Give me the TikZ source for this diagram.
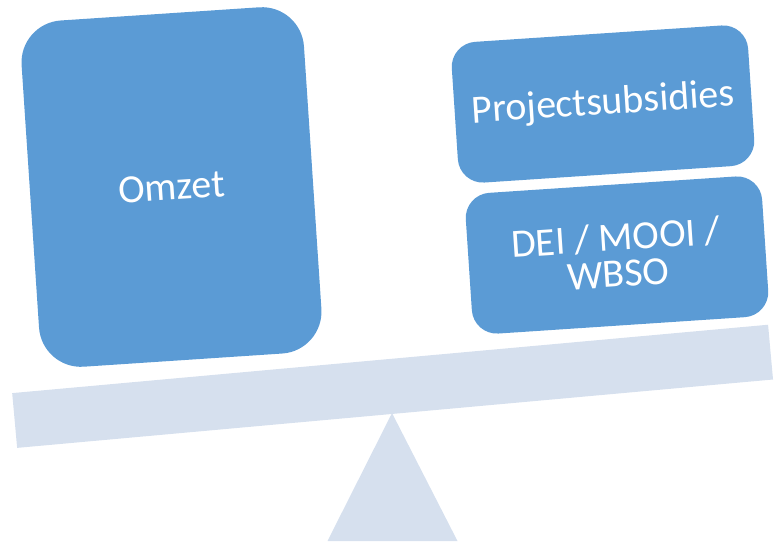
\documentclass[tikz,border=0pt]{standalone}
\usepackage{fontspec}
\setmainfont{Carlito}
\definecolor{boxblue}{RGB}{91,155,213}
\definecolor{beamblue}{RGB}{214,224,238}

\begin{document}
\begin{tikzpicture}[x=1pt, y=-1pt,
	every node/.style={draw=none, text=white, align=center, font=\fontsize{40}{36}\selectfont},
	weight/.style={fill=boxblue, rounded corners=25pt, rotate=3.8, minimum width=297pt, minimum height=141pt, inner sep=0pt},
	beam/.style={fill=beamblue, rotate=5.17, minimum width=759pt, minimum height=55pt, inner sep=0pt}]
	\useasboundingbox (0,0) rectangle (783,541);

	% fulcrum and beam
	\fill[beamblue] (392,413) -- (457.5,541) -- (327.5,541) -- cycle;
	\node[beam] (beam) at (392.6,386.3) {};

	% left pan
	\node[weight, rounded corners=42pt, minimum width=283pt, minimum height=347pt] (omzet) at (171.5,187) {Omzet};

	% right pan
	\node[weight] (project) at (603,104) {Projectsubsidies};
	\node[weight] (dei) at (617,255) {DEI / MOOI /\\WBSO};

\end{tikzpicture}
\end{document}
